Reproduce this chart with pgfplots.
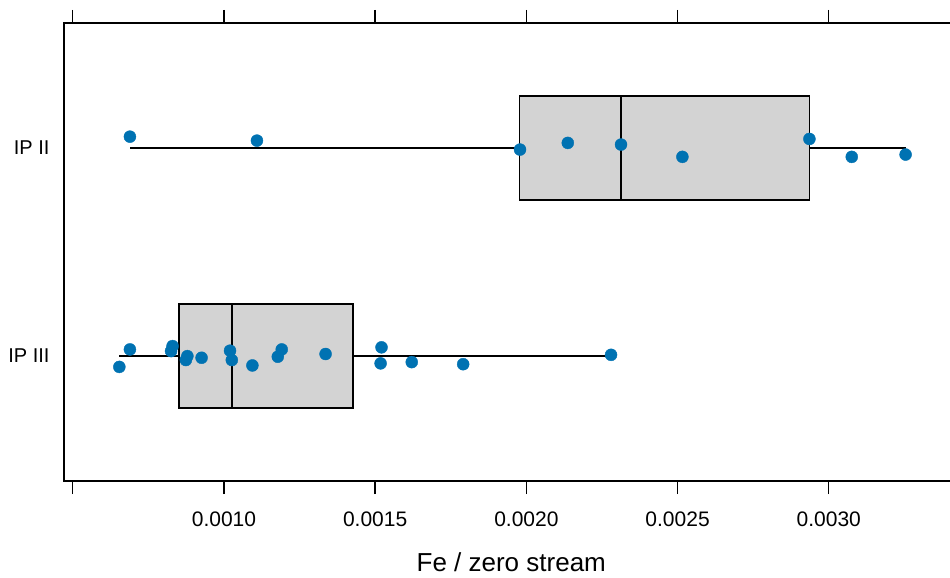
\documentclass[border=0pt]{standalone}
\usepackage{fontspec}
\setmainfont{Liberation Sans}
\usepackage{pgfplots}
\usepgfplotslibrary{statistics}
\pgfplotsset{compat=1.18}
\definecolor{boxgray}{HTML}{D3D3D3}
\definecolor{ptblue}{HTML}{0072B2}

\begin{document}
\begin{tikzpicture}
\begin{axis}[
    name=ax,
    scale only axis,
    width=894.5pt, height=458pt,
    xmin=0.000471, xmax=0.003429,
    ymin=0.4, ymax=2.6,
    axis line style={line width=1.4pt},
    xtick={0.0005,0.0010,0.0015,0.0020,0.0025,0.0030},
    xticklabels={,0.0010,0.0015,0.0020,0.0025,0.0030},
    scaled x ticks=false,
    xtick pos=both, xticklabel pos=lower,
    tick align=outside,
    major tick length=13pt,
    xtick style={line width=1.4pt, black},
    ytick={1,2},
    yticklabels={IP III,IP II},
    ytick style={draw=none},
    /pgf/number format/assume math mode=true,
    ticklabel style={font=\fontsize{21}{24}\selectfont},
    xticklabel style={yshift=-14pt},
    yticklabel style={font=\fontsize{20}{24}\selectfont, xshift=2pt},
    xlabel={Fe / zero stream},
    xlabel style={font=\fontsize{26}{30}\selectfont, anchor=base,
        at={(axis description cs:0.5,0)}, yshift=-90pt},
    boxplot/draw direction=x,
    boxplot/box extend=0.5,
    boxplot/whisker extend=0,
    boxplot/every box/.style={fill=boxgray, draw=black, line width=1.5pt},
    boxplot/every whisker/.style={black, line width=1.5pt},
    boxplot/every median/.style={black, line width=1.5pt},
]
% IP III
\addplot[boxplot prepared={
    lower whisker=0.000654, lower quartile=0.000852, median=0.001026,
    upper quartile=0.001426, upper whisker=0.002280, draw position=1}]
    coordinates {};
% IP II
\addplot[boxplot prepared={
    lower whisker=0.000689, lower quartile=0.001978, median=0.002313,
    upper quartile=0.002936, upper whisker=0.003254, draw position=2}]
    coordinates {};

\addplot[only marks, mark=*, mark size=6pt, ptblue, mark options={draw=ptblue, fill=ptblue}]
    coordinates {
    (0.000689,2.054) (0.001109,2.035) (0.001979,1.992) (0.002137,2.024)
    (0.002313,2.016) (0.002516,1.957) (0.002936,2.043) (0.003076,1.957)
    (0.003254,1.968)
    };
\addplot[only marks, mark=*, mark size=6pt, ptblue, mark options={draw=ptblue, fill=ptblue}]
    coordinates {
    (0.000654,0.948) (0.000689,1.032) (0.000830,1.048) (0.000825,1.024)
    (0.000879,1.000) (0.000874,0.981) (0.000926,0.992) (0.001020,1.026)
    (0.001026,0.981) (0.001094,0.955) (0.001191,1.032) (0.001178,0.997)
    (0.001336,1.010) (0.001521,1.042) (0.001518,0.965) (0.001621,0.971)
    (0.001791,0.961) (0.002280,1.006)
    };
\end{axis}
\pgfresetboundingbox
\useasboundingbox ([xshift=-64pt,yshift=-97pt]ax.south west) rectangle ++(950pt,578pt);
\end{tikzpicture}
\end{document}
